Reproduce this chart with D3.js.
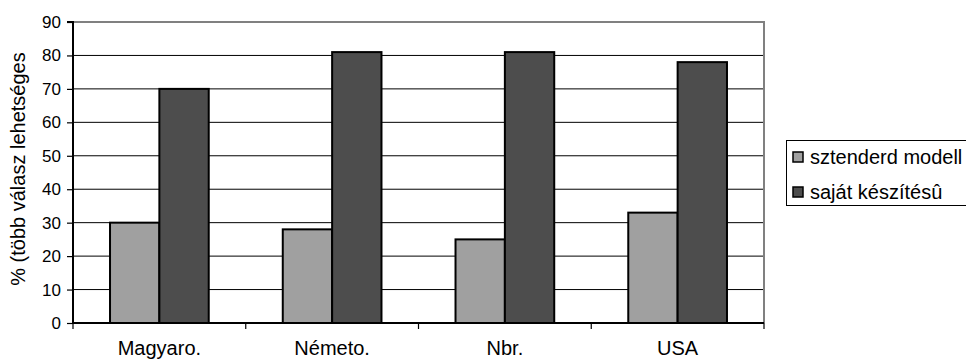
<!DOCTYPE html>
<html>
<head>
<meta charset="utf-8">
<script src="https://cdn.jsdelivr.net/npm/d3@7"></script>
<style>
  html, body { margin: 0; padding: 0; background: #fff; }
  svg { display: block; }
  text { font-family: "Liberation Sans", Arial, sans-serif; fill: #000; }
</style>
</head>
<body>
<svg id="chart" width="966" height="364"></svg>
<script>
const categories = ["Magyaro.", "Németo.", "Nbr.", "USA"];
const seriesNames = ["sztenderd modell", "saját készítésû"];
const standardValues = [30, 28, 25, 33];
const ownValues = [70, 81, 81, 78];
const yTicks = [0, 10, 20, 30, 40, 50, 60, 70, 80, 90];
const yTitle = "% (több válasz lehetséges";
const colors = ["#a0a0a0", "#4d4d4d"];

(function () {
const svg = d3.select("#chart");
const pL = 73, pR = 764, pT = 22, pB = 323;

const x = d3.scaleBand().domain(categories).range([pL, pR]).paddingInner(0).paddingOuter(0);
const y = d3.scaleLinear().domain([0, 90]).range([pB, pT]);

// gridlines
svg.append("g").selectAll("line")
  .data(yTicks.filter(d => d > 0 && d < 90))
  .join("line")
  .attr("x1", pL).attr("x2", pR)
  .attr("y1", d => y(d)).attr("y2", d => y(d))
  .attr("stroke", "#000").attr("stroke-width", 1);

// plot border top/right (gray)
svg.append("path")
  .attr("d", `M${pL},${y(90)}H${pR}V${pB}`)
  .attr("fill", "none").attr("stroke", "#808080").attr("stroke-width", 2);

// bars
const barW = x.bandwidth() / 3.5;
const data = categories.map((c, i) => ({c, vals: [standardValues[i], ownValues[i]]}));
const g = svg.append("g");
data.forEach(d => {
  d.vals.forEach((v, k) => {
    const cx = x(d.c) + x.bandwidth() / 2;
    const x0 = cx - barW + k * barW;
    g.append("rect")
      .attr("x", x0).attr("y", y(v))
      .attr("width", barW).attr("height", y(0) - y(v))
      .attr("fill", colors[k]).attr("stroke", "#000").attr("stroke-width", 2);
  });
});

// y axis
const yAxis = d3.axisLeft(y).tickValues(yTicks).tickSize(6).tickPadding(6);
const ya = svg.append("g").attr("transform", `translate(${pL},0)`).call(yAxis);
ya.select(".domain").attr("stroke", "#000").attr("stroke-width", 2).attr("d", `M-6,${y(90)}H0V${pB}`);
ya.selectAll(".tick line").attr("stroke", "#000").attr("stroke-width", 1.2);
ya.selectAll(".tick text").style("font-size", "17px").style("font-family", "Liberation Sans, Arial, sans-serif");

// x axis
const xa = svg.append("g").attr("transform", `translate(0,${pB})`)
  .call(d3.axisBottom(x).tickSize(0).tickPadding(18));
xa.select(".domain").attr("stroke", "#000").attr("stroke-width", 2).attr("d", `M${pL},0H${pR}`);
xa.selectAll(".tick text").style("font-size", "20px").style("font-family", "Liberation Sans, Arial, sans-serif");
// category boundary ticks
svg.append("g").selectAll("line")
  .data(categories.concat(["__end"]))
  .join("line")
  .attr("x1", (d, i) => i < categories.length ? x(d) : pR)
  .attr("x2", (d, i) => i < categories.length ? x(d) : pR)
  .attr("y1", pB).attr("y2", pB + 6)
  .attr("stroke", "#000").attr("stroke-width", 1.2);

// y title
svg.append("text")
  .attr("transform", `translate(25,169) rotate(-90)`)
  .attr("text-anchor", "middle")
  .style("font-size", "20px")
  .text(yTitle);

// legend
const lg = svg.append("g");
lg.append("rect").attr("x", 786.5).attr("y", 140.5).attr("width", 200).attr("height", 65)
  .attr("fill", "#fff").attr("stroke", "#000").attr("stroke-width", 1);
seriesNames.forEach((n, i) => {
  const cy = 157 + i * 35;
  lg.append("rect").attr("x", 793).attr("y", cy - 5).attr("width", 10).attr("height", 10)
    .attr("fill", colors[i]).attr("stroke", "#000").attr("stroke-width", 1.5);
  lg.append("text").attr("x", 810).attr("y", cy).attr("dy", "0.35em")
    .style("font-size", "20px").text(n);
});
})();
</script>
</body>
</html>
